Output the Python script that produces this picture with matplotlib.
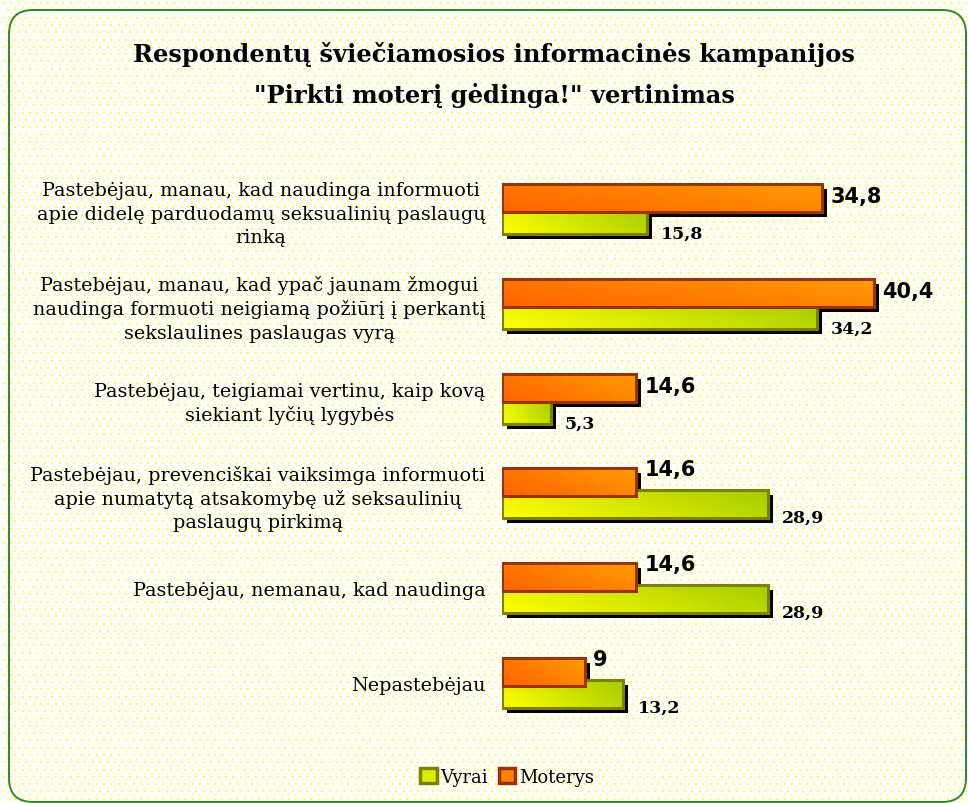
import numpy as np
import matplotlib
matplotlib.use("Agg")
import matplotlib.pyplot as plt
from matplotlib.patches import FancyBboxPatch, Rectangle
from matplotlib.transforms import offset_copy

# data
categories = [
    "Pastebėjau, manau, kad naudinga informuoti\napie didelę parduodamų seksualinių paslaugų\nrinką",
    "Pastebėjau, manau, kad ypač jaunam žmogui\nnaudinga formuoti neigiamą požiūrį į perkantį\nsekslaulines paslaugas vyrą",
    "Pastebėjau, teigiamai vertinu, kaip kovą\nsiekiant lyčių lygybės",
    "Pastebėjau, prevenciškai vaiksimga informuoti\napie numatytą atsakomybę už seksaulinių\npaslaugų pirkimą",
    "Pastebėjau, nemanau, kad naudinga",
    "Nepastebėjau",
]
vyrai = [15.8, 34.2, 5.3, 28.9, 28.9, 13.2]
moterys = [34.8, 40.4, 14.6, 14.6, 14.6, 9.0]
series_names = ["Vyrai", "Moterys"]
title = 'Respondentų šviečiamosios informacinės kampanijos\n"Pirkti moterį gėdinga!" vertinimas'

W, H = 968, 804
fig = plt.figure(figsize=(W / 100, H / 100), dpi=100)
fig.patch.set_facecolor("white")

# background: dotted pattern + rounded green frame
bg = fig.add_axes([0, 0, 1, 1], zorder=-5)
bg.set_xlim(0, W)
bg.set_ylim(H, 0)
bg.axis("off")
gx, gy = np.meshgrid(np.arange(4, W, 7.4), np.arange(4, H, 7.3))
gx[1::2] += 3.7
bg.scatter(gx.ravel(), gy.ravel(), s=1.4, marker="s", c="#ffff55", linewidths=0)
bg.scatter(gx.ravel() + 3.7, gy.ravel() + 3.6, s=0.9, marker="s", c="#ffffc0", linewidths=0)
frame = FancyBboxPatch((9, 11), W - 11, H - 12, boxstyle="round,pad=0,rounding_size=24",
                       facecolor="none", edgecolor="#2d8a1e", linewidth=1.4)
bg.add_patch(frame)

# title
fig.text(494 / W, 1 - 42 / H, title, ha="center", va="top", family="DejaVu Serif",
         fontweight="bold", fontsize=17.4, linespacing=1.8)

# main axes: group i centred at 210 + 94.8*i px
top_px, bot_px = 210 - 94.8, 210 + 6 * 94.8
x0_px, x1_px = 502, 916
ax = fig.add_axes([x0_px / W, 1 - bot_px / H, (x1_px - x0_px) / W, (bot_px - top_px) / H])
ax.patch.set_alpha(0)
for s in ax.spines.values():
    s.set_visible(False)

y = np.arange(len(categories))
h = 28 / 94.8
off = 11 / 94.8
tr_shadow = offset_copy(ax.transData, fig=fig, x=5, y=-5, units="dots")

def grad_bars(ypos, vals, c_a, c_b, edge, z, diag):
    shadow = ax.barh(ypos, vals, h, color="black", zorder=1)
    for p in shadow:
        p.set_transform(tr_shadow)
    bars = ax.barh(ypos, vals, h, facecolor="none", edgecolor=edge, linewidth=2.2, zorder=z + 1)
    ca = np.array(matplotlib.colors.to_rgb(c_a))
    cb = np.array(matplotlib.colors.to_rgb(c_b))
    for b, yy, v in zip(bars, ypos, vals):
        xx, yv = np.meshgrid(np.linspace(0, 1, 64), np.linspace(0, 1, 16))
        t = (xx + diag * yv) / (1 + diag)
        img = ca[None, None, :] * (1 - t[..., None]) + cb[None, None, :] * t[..., None]
        im = ax.imshow(img, extent=(0, v, yy + h / 2, yy - h / 2), aspect="auto",
                       origin="lower", zorder=z, interpolation="bilinear")
        im.set_clip_path(b)
    return bars

grad_bars(y + off, vyrai, "#ffff00", "#a6cc00", "#808000", 3, 0.3)
grad_bars(y - off, moterys, "#ff6200", "#ff9c00", "#993300", 5, 0.6)

ax.set_xlim(0, (x1_px - x0_px) / 9.2)
ax.set_ylim(len(categories), -1)
ax.set_yticks(y)
ax.set_yticklabels(categories, family="DejaVu Serif", fontsize=13.8, linespacing=1.36,
                   multialignment="center")
ax.tick_params(axis="y", length=0, pad=12)
ax.set_xticks([])

for yy, m, v in zip(y, moterys, vyrai):
    dy = 2 if m > v else 13
    ax.annotate(f"{m:g}".replace(".", ","), (m, yy - off), xytext=(8, dy), textcoords="offset pixels",
                ha="left", va="center", fontsize=15, fontweight="bold", family="DejaVu Sans", zorder=10)
    ax.annotate(f"{v:g}".replace(".", ","), (v, yy + off + h / 2), xytext=(14, 1), textcoords="offset pixels",
                ha="left", va="center", fontsize=12.5, fontweight="bold", family="DejaVu Serif", zorder=10)

# legend
handles = [Rectangle((0, 0), 1, 1, facecolor="#d8ee00", edgecolor="#808000", linewidth=2.5),
           Rectangle((0, 0), 1, 1, facecolor="#ff7f00", edgecolor="#993300", linewidth=2.5)]
fig.legend(handles, series_names, loc="center", bbox_to_anchor=(507 / W, 1 - 778 / H), ncol=2,
           frameon=False, handlelength=0.9, handleheight=0.9, handletextpad=0.2, columnspacing=0.6,
           prop={"family": "DejaVu Serif", "size": 13})

fig.savefig("out.png", dpi=100)
